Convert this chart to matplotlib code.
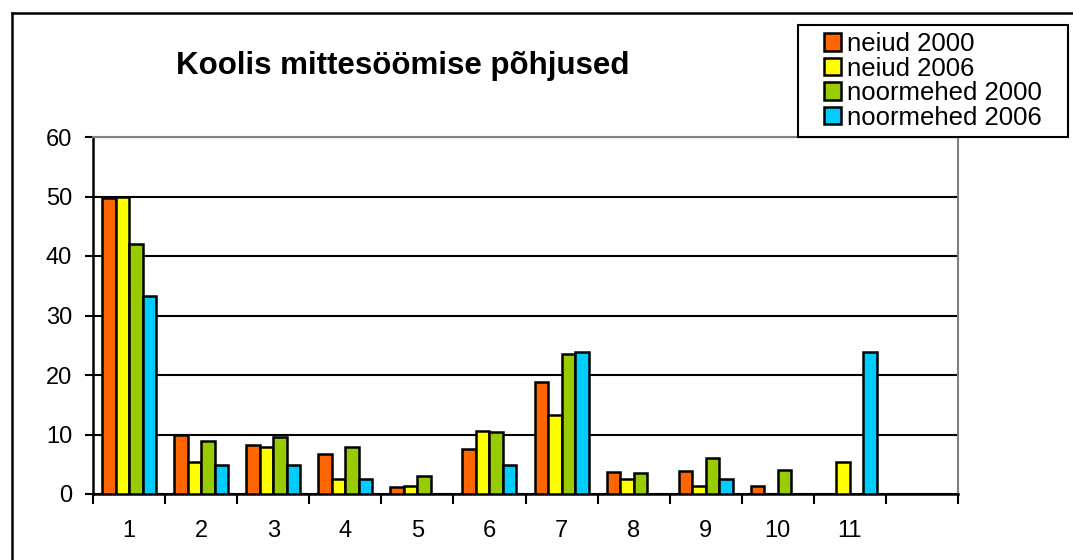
import numpy as np
import matplotlib
matplotlib.use("Agg")
import matplotlib.pyplot as plt
from matplotlib.lines import Line2D
from matplotlib.patches import Rectangle

plt.rcParams['font.family'] = ['Liberation Sans', 'DejaVu Sans']

categories = ['1', '2', '3', '4', '5', '6', '7', '8', '9', '10', '11']
series_names = ['neiud 2000', 'neiud 2006', 'noormehed 2000', 'noormehed 2006']
neiud_2000 = [49.7, 9.9, 8.2, 6.7, 1.2, 7.5, 18.9, 3.7, 3.9, 1.3, 0.0]
neiud_2006 = [50.0, 5.3, 7.9, 2.6, 1.4, 10.6, 13.2, 2.6, 1.4, 0.0, 5.3]
noormehed_2000 = [42.1, 8.9, 9.6, 7.9, 3.1, 10.5, 23.5, 3.5, 6.1, 4.0, 0.0]
noormehed_2006 = [33.2, 4.8, 4.8, 2.5, 0.0, 4.9, 23.8, 0.0, 2.5, 0.0, 23.8]
colors = ['#FF6600', '#FFFF00', '#99CC00', '#00CCFF']
title = 'Koolis mittesöömise põhjused'

W, H = 1073, 560
fig = plt.figure(figsize=(W / 100, H / 100), dpi=100)
ax = fig.add_axes([93 / W, 1 - 494 / H, (958 - 93) / W, (494 - 137) / H])

n_slots = len(categories) + 1
x = np.arange(len(categories))
bw = 0.1875
all_series = [neiud_2000, neiud_2006, noormehed_2000, noormehed_2006]
handles = []
for i, (vals, c, name) in enumerate(zip(all_series, colors, series_names)):
    h = ax.bar(x + (i - 1.5) * bw, vals, width=bw, color=c, edgecolor='black',
               linewidth=1.8, label=name, zorder=3)
    handles.append(h)

ax.set_xlim(-0.5, n_slots - 0.5)
ax.set_ylim(0, 60)
ax.set_yticks(np.arange(0, 61, 10))
ax.yaxis.grid(True, color='black', linewidth=1.5, zorder=1)
ax.set_axisbelow(True)

ax.set_xticks(x)
ax.set_xticklabels(categories)
ax.set_xticks(np.arange(-0.5, n_slots, 1.0), minor=True)
ax.tick_params(axis='x', which='major', length=0, pad=19, labelsize=17)
ax.tick_params(axis='x', which='minor', length=7, width=1.5, direction='out')
ax.tick_params(axis='y', length=6, width=1.5, pad=9, labelsize=17)

for side in ['top', 'right']:
    ax.spines[side].set_color('#808080')
    ax.spines[side].set_linewidth(1.5)
for side in ['left', 'bottom']:
    ax.spines[side].set_color('black')
    ax.spines[side].set_linewidth(1.8)

fig.text(403 / W, 1 - 74 / H, title, ha='center', va='baseline',
         fontsize=22.5, fontweight='bold')

# outer chart frame (left and top edges)
fig.add_artist(Line2D([11.5 / W, 11.5 / W], [0, 1 - 13 / H], color='black', linewidth=1.8,
                      transform=fig.transFigure))
fig.add_artist(Line2D([11.5 / W, 1.0], [1 - 13 / H, 1 - 13 / H], color='black', linewidth=1.8,
                      transform=fig.transFigure))

# legend box
fig.add_artist(Rectangle((798 / W, 1 - 137 / H), 270 / W, 112 / H, transform=fig.transFigure,
                         facecolor='white', edgecolor='black', linewidth=1.5, zorder=5))
leg = fig.legend(handles=handles, labels=series_names, loc='upper left',
                 bbox_to_anchor=(824 / W, 1 - 32 / H), frameon=False, fontsize=18.5,
                 handlelength=0.65, handleheight=0.65, handletextpad=0.25,
                 labelspacing=0.02, borderpad=0, borderaxespad=0)
leg.set_zorder(6)

fig.savefig('out.png', dpi=100)
